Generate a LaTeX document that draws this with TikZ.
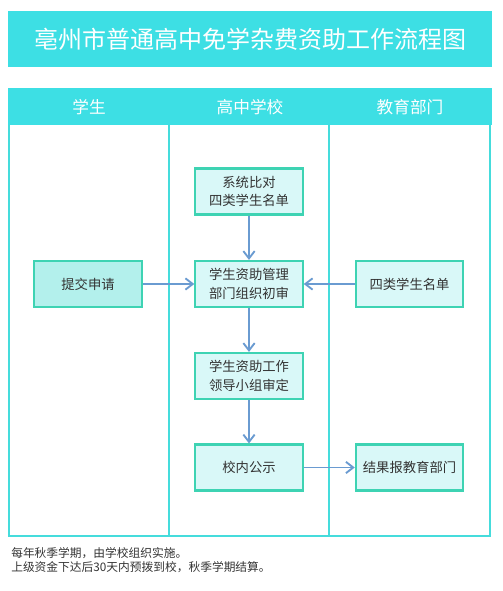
\documentclass[tikz,border=0pt]{standalone}
\usepackage{fontspec}
\usepackage{xcolor}
\usetikzlibrary{arrows.meta,positioning}
\newfontfamily\cjk{Noto Sans CJK SC}
\definecolor{Cyan}{HTML}{3DDFE4}
\definecolor{Lane}{HTML}{45DCDC}
\definecolor{Edge}{HTML}{3ED3B3}
\definecolor{LBg}{HTML}{D9F8F8}
\definecolor{DBg}{HTML}{B3F0EC}
\definecolor{Flow}{HTML}{6A9BD1}
\definecolor{Ink}{HTML}{333333}

\begin{document}
\begin{tikzpicture}[x=0.75pt,y=-0.75pt,
  every node/.style={font=\cjk},
  bx/.style={rectangle, draw=Edge, line width=1.6pt, fill=LBg, text=Ink,
             align=center, font=\cjk\fontsize{10}{14}\selectfont},
  pbox/.style={bx, minimum width=80.5pt, minimum height=34.5pt},
  arr/.style={-{Straight Barb[length=5.5pt,width=8.5pt]}, line width=1.4pt, draw=Flow},
  hd/.style={text=white, font=\cjk\fontsize{12.5}{14}\selectfont},
]
\useasboundingbox (0,0) rectangle (502,591);
% title and lane frame
\fill[Cyan] (8,11) rectangle (492,67);
\node[text=white,font=\cjk\fontsize{18}{20}\selectfont] (ttl) at (250,39) {亳州市普通高中免学杂费资助工作流程图};
\fill[Cyan] (8,88) rectangle (492,125);
\draw[Lane, line width=1.5pt] (8.5,125) -- (8.5,536) -- (490,536) -- (490,125)
  (169,125) -- (169,536) (329,125) -- (329,536);
\node[hd] (lstu) at (89,107)  {学生};
\node[hd] (lsch) at (250,107) {高中学校};
\node[hd] (ledu) at (410,107) {教育部门};
% boxes
\node[pbox] (cmp)  at (249,191.5) {系统比对\\四类学生名单};
\node[pbox] (fst)  at (249,284)   {学生资助管理\\部门组织初审};
\node[pbox, fill=DBg] (app) at (88,284) {提交申请};
\node[pbox] (lst)  at (409.5,284) {四类学生名单};
\node[pbox] (fin)  at (249,376)   {学生资助工作\\领导小组审定};
\node[pbox] (pub)  at (249,467.5) {校内公示};
\node[pbox] (rep)  at (409.5,467.5) {结果报教育部门};
\draw[arr] (cmp.south) -- (fst.north);
\draw[arr] (app.east)  -- (fst.west);
\draw[arr] (lst.west)  -- (fst.east);
\draw[arr] (fst.south) -- (fin.north);
\draw[arr] (fin.south) -- (pub.north);
\draw[arr] (pub.east)  -- (rep.west);
% note
\node[anchor=north west, align=left, text=Ink, inner sep=0pt,
      font=\cjk\fontsize{8.8}{11}\selectfont] (note) at (11,547)
  {每年秋季学期，由学校组织实施。\\上级资金下达后30天内预拨到校，秋季学期结算。};
\end{tikzpicture}
\end{document}
